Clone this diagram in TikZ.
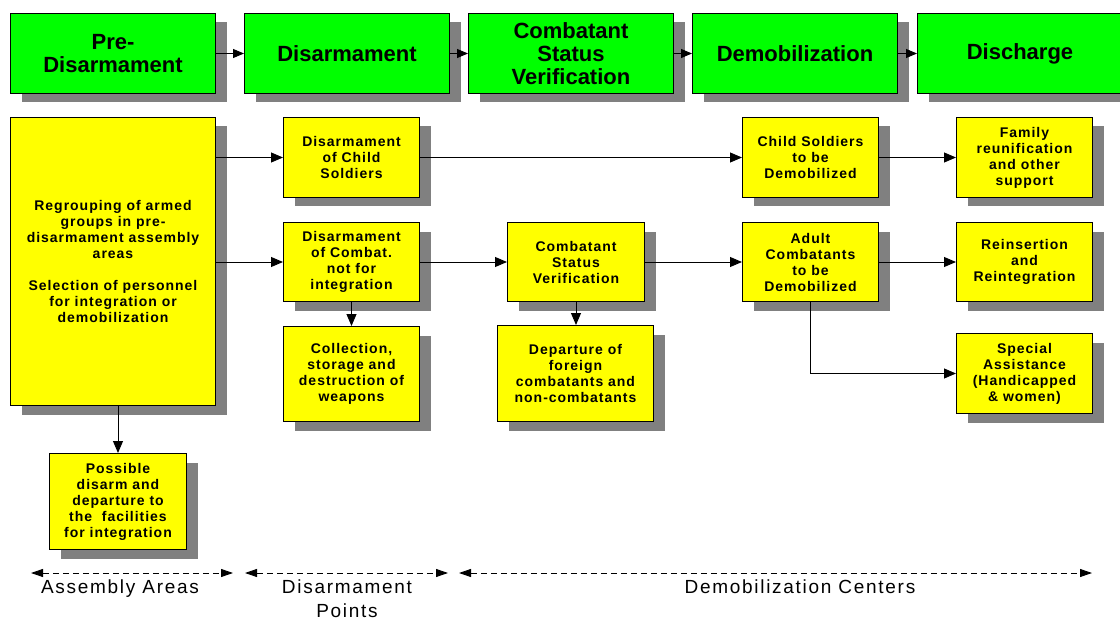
\documentclass[tikz,border=0pt]{standalone}
\usepackage{fontspec}
\setmainfont{Liberation Sans}
\newfontfamily\boxfont{Liberation Sans}[LetterSpace=7]
\newfontfamily\labfont{Liberation Sans}[LetterSpace=9]
\usetikzlibrary{shadows,arrows.meta,positioning}
\definecolor{hgreen}{HTML}{00FF00}
\definecolor{byellow}{HTML}{FFFF00}
\definecolor{shgray}{HTML}{808080}
\tikzset{
  shad/.style={drop shadow={shadow xshift=11pt, shadow yshift=-9pt, fill=shgray, opacity=1}},
  hbox/.style={draw, line width=1pt, fill=hgreen, shad, align=center, inner sep=0pt,
    anchor=north west, minimum width=205pt, minimum height=80pt,
    font=\fontsize{22}{23}\selectfont\bfseries},
  ybox/.style={draw, line width=1pt, fill=byellow, shad, align=center, inner sep=0pt,
    anchor=north west, font=\boxfont\fontsize{14}{16}\selectfont\bfseries},
  harrow/.style={line width=1pt, -{Triangle[length=11pt,width=9pt]}},
  conn/.style={line width=0.9pt, -{Triangle[length=12pt,width=10pt]}},
  span/.style={line width=0.9pt, dash pattern=on 6pt off 4pt,
    {Triangle[length=12pt,width=8pt]}-{Triangle[length=12pt,width=8pt]}},
  lab/.style={align=center, inner sep=0pt, font=\labfont\fontsize{19}{24}\selectfont}
}
\begin{document}
\begin{tikzpicture}[x=1pt,y=-1pt]
\path[use as bounding box] (0,0) rectangle (1120,623);
\clip (0,0) rectangle (1120,623);
% headers
\node[hbox] (h1) at (10,13) {Pre-\\Disarmament};
\node[hbox] (h2) at (244,13) {Disarmament};
\node[hbox] (h3) at (468,13) {Combatant\\Status\\Verification};
\node[hbox] (h4) at (692,13) {Demobilization};
\node[hbox] (h5) at (917,13) {Discharge};
\draw[harrow] (h1) -- (h2);
\draw[harrow] (h2) -- (h3);
\draw[harrow] (h3) -- (h4);
\draw[harrow] (h4) -- (h5);
% boxes
\node[ybox, minimum width=205pt, minimum height=288pt] (big) at (10,117)
  {Regrouping of armed\\groups in pre-\\disarmament assembly\\areas\\[16pt]Selection of personnel\\for integration or\\demobilization};
\node[ybox, minimum width=137pt, minimum height=96pt] (pos) at (49,453)
  {Possible\\disarm and\\departure to\\the\ \ facilities\\for integration};
\node[ybox, minimum width=136pt, minimum height=80pt] (cd) at (283,117)
  {Disarmament\\of Child\\Soldiers};
\node[ybox, minimum width=136pt, minimum height=79pt] (cb) at (283,222)
  {Disarmament\\of Combat.\\not for\\integration};
\node[ybox, minimum width=136pt, minimum height=95pt] (col) at (283,326)
  {Collection,\\storage and\\destruction of\\weapons};
\node[ybox, minimum width=137pt, minimum height=79pt] (csv) at (507,222)
  {Combatant\\Status\\Verification};
\node[ybox, minimum width=156pt, minimum height=96pt] (dep) at (497,325)
  {Departure of\\foreign\\combatants and\\non-combatants};
\node[ybox, minimum width=136pt, minimum height=80pt] (cs) at (742,117)
  {Child Soldiers\\to be\\Demobilized};
\node[ybox, minimum width=136pt, minimum height=79pt] (ad) at (742,222)
  {Adult\\Combatants\\to be\\Demobilized};
\node[ybox, minimum width=136pt, minimum height=80pt] (fam) at (956,117)
  {Family\\reunification\\and other\\support};
\node[ybox, minimum width=136pt, minimum height=79pt] (rei) at (956,222)
  {Reinsertion\\and\\Reintegration};
\node[ybox, minimum width=136pt, minimum height=80pt] (spe) at (956,333)
  {Special\\Assistance\\(Handicapped\\\& women)};
% connectors
\draw[conn] (big.east |- cd.west) -- (cd.west);
\draw[conn] (big.east |- cb.west) -- (cb.west);
\draw[conn] (pos.north |- big.south) -- (pos.north);
\draw[conn] (cb.south) -- (cb.south |- col.north);
\draw[conn] (cd.east) -- (cs.west);
\draw[conn] (cb.east) -- (csv.west);
\draw[conn] (csv.south) -- (csv.south |- dep.north);
\draw[conn] (csv.east) -- (ad.west);
\draw[conn] (cs.east) -- (fam.west);
\draw[conn] (ad.east) -- (rei.west);
\draw[conn] (ad.south) |- (spe.west);
% bottom spans
\coordinate (a1) at (31,573);
\coordinate (a2) at (233,573);
\coordinate (b1) at (245,573);
\coordinate (b2) at (448,573);
\coordinate (c1) at (459,573);
\coordinate (c2) at (1092,573);
\draw[span] (a1) -- (a2);
\draw[span] (b1) -- (b2);
\draw[span] (c1) -- (c2);
\node[lab, anchor=north] (la) at (120,580) {Assembly Areas};
\node[lab, anchor=north] (lb) at (347,580) {Disarmament\\Points};
\node[lab, anchor=north] (lc) at (800,580) {Demobilization Centers};
\end{tikzpicture}
\end{document}
